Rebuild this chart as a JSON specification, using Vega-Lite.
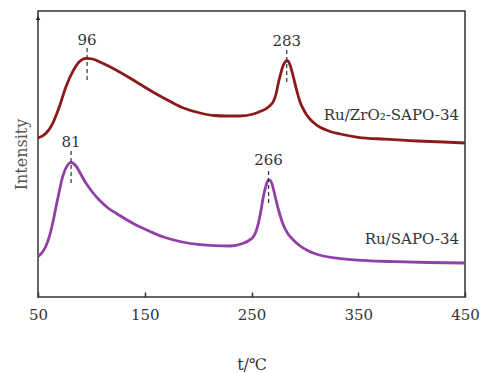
{
  "$schema": "https://vega.github.io/schema/vega-lite/v6.json",
  "width": 427,
  "height": 286,
  "autosize": {"type": "none"},
  "padding": {"left": 38, "top": 11, "right": 24, "bottom": 76},
  "background": "white",
  "config": {
    "view": {"stroke": "#333333", "strokeWidth": 1.5},
    "font": "DejaVu Serif"
  },
  "datasets": {
    "curves": [
      {"series": "Ru/ZrO2-SAPO-34", "t": 50, "v": 159},
      {"series": "Ru/ZrO2-SAPO-34", "t": 57.5, "v": 163.7},
      {"series": "Ru/ZrO2-SAPO-34", "t": 63.8, "v": 173.7},
      {"series": "Ru/ZrO2-SAPO-34", "t": 70, "v": 190.3},
      {"series": "Ru/ZrO2-SAPO-34", "t": 76.2, "v": 210.3},
      {"series": "Ru/ZrO2-SAPO-34", "t": 82.5, "v": 225.3},
      {"series": "Ru/ZrO2-SAPO-34", "t": 88.7, "v": 235.3},
      {"series": "Ru/ZrO2-SAPO-34", "t": 95, "v": 238.7},
      {"series": "Ru/ZrO2-SAPO-34", "t": 101.2, "v": 238},
      {"series": "Ru/ZrO2-SAPO-34", "t": 110.6, "v": 233.7},
      {"series": "Ru/ZrO2-SAPO-34", "t": 123.1, "v": 227},
      {"series": "Ru/ZrO2-SAPO-34", "t": 141.8, "v": 215.3},
      {"series": "Ru/ZrO2-SAPO-34", "t": 156, "v": 206},
      {"series": "Ru/ZrO2-SAPO-34", "t": 169.9, "v": 197.7},
      {"series": "Ru/ZrO2-SAPO-34", "t": 185, "v": 189.5},
      {"series": "Ru/ZrO2-SAPO-34", "t": 201.8, "v": 184},
      {"series": "Ru/ZrO2-SAPO-34", "t": 215, "v": 181.5},
      {"series": "Ru/ZrO2-SAPO-34", "t": 227, "v": 181},
      {"series": "Ru/ZrO2-SAPO-34", "t": 239.2, "v": 181},
      {"series": "Ru/ZrO2-SAPO-34", "t": 251.7, "v": 183},
      {"series": "Ru/ZrO2-SAPO-34", "t": 258, "v": 185.5},
      {"series": "Ru/ZrO2-SAPO-34", "t": 264.2, "v": 188.7},
      {"series": "Ru/ZrO2-SAPO-34", "t": 267.5, "v": 191.5},
      {"series": "Ru/ZrO2-SAPO-34", "t": 270.4, "v": 195.3},
      {"series": "Ru/ZrO2-SAPO-34", "t": 273, "v": 203},
      {"series": "Ru/ZrO2-SAPO-34", "t": 275.1, "v": 213.7},
      {"series": "Ru/ZrO2-SAPO-34", "t": 277.3, "v": 223},
      {"series": "Ru/ZrO2-SAPO-34", "t": 279.2, "v": 230.3},
      {"series": "Ru/ZrO2-SAPO-34", "t": 281.2, "v": 234.5},
      {"series": "Ru/ZrO2-SAPO-34", "t": 283, "v": 236.3},
      {"series": "Ru/ZrO2-SAPO-34", "t": 284.7, "v": 235.3},
      {"series": "Ru/ZrO2-SAPO-34", "t": 286.1, "v": 232},
      {"series": "Ru/ZrO2-SAPO-34", "t": 288.4, "v": 223.5},
      {"series": "Ru/ZrO2-SAPO-34", "t": 290.7, "v": 213.7},
      {"series": "Ru/ZrO2-SAPO-34", "t": 293, "v": 204},
      {"series": "Ru/ZrO2-SAPO-34", "t": 295.4, "v": 195.3},
      {"series": "Ru/ZrO2-SAPO-34", "t": 298.5, "v": 188},
      {"series": "Ru/ZrO2-SAPO-34", "t": 301.7, "v": 182},
      {"series": "Ru/ZrO2-SAPO-34", "t": 307.5, "v": 175},
      {"series": "Ru/ZrO2-SAPO-34", "t": 314.2, "v": 169.7},
      {"series": "Ru/ZrO2-SAPO-34", "t": 323, "v": 165.8},
      {"series": "Ru/ZrO2-SAPO-34", "t": 332.9, "v": 163},
      {"series": "Ru/ZrO2-SAPO-34", "t": 350, "v": 159.7},
      {"series": "Ru/ZrO2-SAPO-34", "t": 375, "v": 157.8},
      {"series": "Ru/ZrO2-SAPO-34", "t": 405, "v": 156},
      {"series": "Ru/ZrO2-SAPO-34", "t": 430, "v": 155},
      {"series": "Ru/ZrO2-SAPO-34", "t": 450, "v": 154},
      {"series": "Ru/SAPO-34", "t": 50, "v": 40.3},
      {"series": "Ru/SAPO-34", "t": 54.4, "v": 45.3},
      {"series": "Ru/SAPO-34", "t": 57.5, "v": 51},
      {"series": "Ru/SAPO-34", "t": 60.6, "v": 60.3},
      {"series": "Ru/SAPO-34", "t": 63.8, "v": 74},
      {"series": "Ru/SAPO-34", "t": 66.9, "v": 90.3},
      {"series": "Ru/SAPO-34", "t": 70, "v": 106},
      {"series": "Ru/SAPO-34", "t": 73.1, "v": 120.3},
      {"series": "Ru/SAPO-34", "t": 75.5, "v": 127.5},
      {"series": "Ru/SAPO-34", "t": 77.8, "v": 132},
      {"series": "Ru/SAPO-34", "t": 80.9, "v": 134.7},
      {"series": "Ru/SAPO-34", "t": 83.2, "v": 133.5},
      {"series": "Ru/SAPO-34", "t": 85.6, "v": 131},
      {"series": "Ru/SAPO-34", "t": 90, "v": 123},
      {"series": "Ru/SAPO-34", "t": 95, "v": 113.7},
      {"series": "Ru/SAPO-34", "t": 100.5, "v": 105.5},
      {"series": "Ru/SAPO-34", "t": 107.4, "v": 97},
      {"series": "Ru/SAPO-34", "t": 115, "v": 89.5},
      {"series": "Ru/SAPO-34", "t": 123.1, "v": 83.7},
      {"series": "Ru/SAPO-34", "t": 141.8, "v": 72},
      {"series": "Ru/SAPO-34", "t": 155, "v": 65.5},
      {"series": "Ru/SAPO-34", "t": 168.3, "v": 59.7},
      {"series": "Ru/SAPO-34", "t": 185, "v": 55},
      {"series": "Ru/SAPO-34", "t": 201.8, "v": 52.3},
      {"series": "Ru/SAPO-34", "t": 215, "v": 51.3},
      {"series": "Ru/SAPO-34", "t": 229.9, "v": 51},
      {"series": "Ru/SAPO-34", "t": 242.3, "v": 53.7},
      {"series": "Ru/SAPO-34", "t": 247.5, "v": 56.5},
      {"series": "Ru/SAPO-34", "t": 251.7, "v": 60.3},
      {"series": "Ru/SAPO-34", "t": 254.2, "v": 65.5},
      {"series": "Ru/SAPO-34", "t": 256.4, "v": 73.7},
      {"series": "Ru/SAPO-34", "t": 258.8, "v": 86},
      {"series": "Ru/SAPO-34", "t": 261.1, "v": 100.3},
      {"series": "Ru/SAPO-34", "t": 263.5, "v": 111},
      {"series": "Ru/SAPO-34", "t": 265.8, "v": 117},
      {"series": "Ru/SAPO-34", "t": 267.5, "v": 116.5},
      {"series": "Ru/SAPO-34", "t": 269, "v": 113.7},
      {"series": "Ru/SAPO-34", "t": 271.3, "v": 104.5},
      {"series": "Ru/SAPO-34", "t": 273.7, "v": 93.7},
      {"series": "Ru/SAPO-34", "t": 276.7, "v": 82},
      {"series": "Ru/SAPO-34", "t": 279.8, "v": 72},
      {"series": "Ru/SAPO-34", "t": 284.3, "v": 63},
      {"series": "Ru/SAPO-34", "t": 289.2, "v": 57},
      {"series": "Ru/SAPO-34", "t": 295, "v": 51.5},
      {"series": "Ru/SAPO-34", "t": 301.7, "v": 47},
      {"series": "Ru/SAPO-34", "t": 309, "v": 43.5},
      {"series": "Ru/SAPO-34", "t": 317.3, "v": 41},
      {"series": "Ru/SAPO-34", "t": 328, "v": 39.2},
      {"series": "Ru/SAPO-34", "t": 340.7, "v": 37.7},
      {"series": "Ru/SAPO-34", "t": 358.2, "v": 36.3},
      {"series": "Ru/SAPO-34", "t": 385, "v": 35.3},
      {"series": "Ru/SAPO-34", "t": 415, "v": 34.5},
      {"series": "Ru/SAPO-34", "t": 450, "v": 34}
    ],
    "peaks": [
      {"t": 96, "y1": 217, "y2": 249, "ly": 257, "label": "96"},
      {"t": 283, "y1": 215, "y2": 247, "ly": 256, "label": "283"},
      {"t": 81, "y1": 114, "y2": 147, "ly": 155, "label": "81"},
      {"t": 266, "y1": 94, "y2": 127, "ly": 137, "label": "266"}
    ],
    "names": [
      {"t": 450, "v": 182, "name": "Ru/ZrO₂-SAPO-34"},
      {"t": 450, "v": 58, "name": "Ru/SAPO-34"}
    ],
    "arrow": [{"t": 50, "v": 279}]
  },
  "layer": [
    {
      "data": {"name": "curves"},
      "mark": {"type": "line", "strokeWidth": 2.8, "interpolate": "monotone"},
      "encoding": {
        "x": {
          "field": "t", "type": "quantitative",
          "scale": {"domain": [50, 450], "nice": false, "zero": false},
          "axis": {
            "values": [50, 150, 250, 350, 450],
            "title": "t/℃",
            "titleFont": "DejaVu Serif",
            "titleFontSize": 16,
            "titleFontWeight": "normal",
            "titleColor": "#333",
            "titlePadding": 34,
            "labelFont": "DejaVu Serif",
            "labelFontSize": 15,
            "labelColor": "#333",
            "labelPadding": 15,
            "labelFlush": false,
            "labelOverlap": false,
            "tickSize": -5,
            "tickColor": "#333",
            "tickWidth": 1.5,
            "domain": false,
            "grid": false
          }
        },
        "y": {
          "field": "v", "type": "quantitative",
          "scale": {"domain": [0, 286], "nice": false},
          "axis": {
            "title": "Intensity",
            "titleFont": "DejaVu Serif",
            "titleFontSize": 16,
            "titleFontWeight": "normal",
            "titleColor": "#555",
            "titlePadding": 9,
            "labels": false,
            "ticks": false,
            "domain": false,
            "grid": false
          }
        },
        "detail": {"field": "series"},
        "color": {
          "field": "series", "type": "nominal",
          "scale": {"domain": ["Ru/ZrO2-SAPO-34", "Ru/SAPO-34"], "range": ["#8b1a1a", "#9141a6"]},
          "legend": null
        }
      }
    },
    {
      "data": {"name": "peaks"},
      "mark": {"type": "rule", "strokeDash": [4, 3], "color": "#333", "strokeWidth": 1.2},
      "encoding": {
        "x": {"field": "t", "type": "quantitative"},
        "y": {"field": "y1", "type": "quantitative"},
        "y2": {"field": "y2"}
      }
    },
    {
      "data": {"name": "peaks"},
      "mark": {"type": "text", "font": "DejaVu Serif", "fontSize": 15, "color": "#333", "baseline": "middle"},
      "encoding": {
        "x": {"field": "t", "type": "quantitative"},
        "y": {"field": "ly", "type": "quantitative"},
        "text": {"field": "label"}
      }
    },
    {
      "data": {"name": "names"},
      "mark": {"type": "text", "font": "DejaVu Serif", "fontSize": 15, "color": "#333", "align": "right", "baseline": "middle", "dx": -6},
      "encoding": {
        "x": {"field": "t", "type": "quantitative"},
        "y": {"field": "v", "type": "quantitative"},
        "text": {"field": "name"}
      }
    },
    {
      "data": {"name": "arrow"},
      "mark": {"type": "point", "shape": "triangle-up", "filled": true, "size": 20, "color": "#222", "opacity": 1},
      "encoding": {
        "x": {"field": "t", "type": "quantitative"},
        "y": {"field": "v", "type": "quantitative"}
      }
    }
  ]
}
